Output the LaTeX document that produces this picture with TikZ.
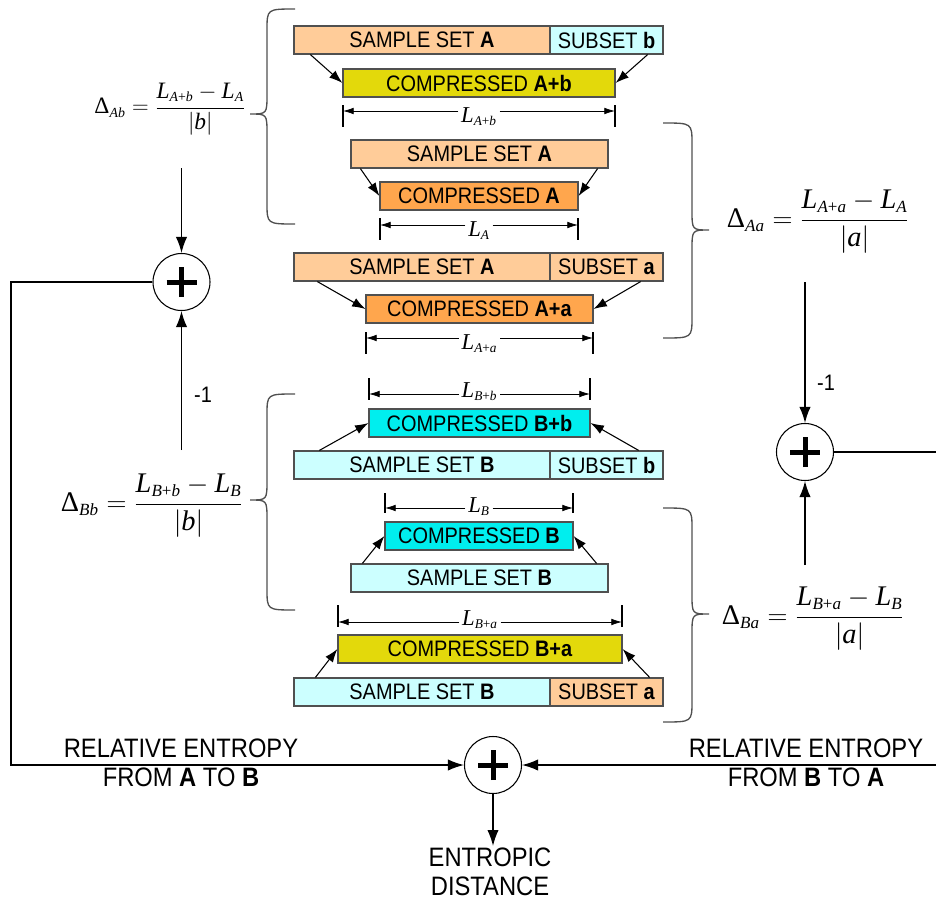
\documentclass[tikz,border=0pt]{standalone}
\usepackage{amsmath}
\usepackage[no-math]{fontspec}
\setmainfont{Liberation Sans}[FakeStretch=0.89]
\newfontfamily\tms{Liberation Serif}
\usetikzlibrary{arrows.meta,calc}
\DeclareMathSizes{17}{17}{10}{8}
\DeclareMathSizes{17.6}{17.6}{10.4}{8}
\DeclareMathSizes{21.3}{21.3}{12.8}{9}
\newcommand{\vi}[1]{\text{\tms\itshape #1}}
\newcommand{\vu}[1]{\text{\tms #1}}
\definecolor{peach}{HTML}{FFCC99}
\definecolor{lcyan}{HTML}{CCFFFF}
\definecolor{yel}{HTML}{E3D90B}
\definecolor{orng}{HTML}{FFA64D}
\definecolor{cyn}{HTML}{00EEEE}
\definecolor{edge}{HTML}{505050}
\tikzset{
 bxs/.style={draw=edge, line width=0.9pt, inner sep=0pt, font=\fontsize{16.8}{20}\selectfont},
 arr/.style={-{Latex[length=12pt,width=8.5pt]}, line width=1.1pt},
 sarr/.style={-{Latex[length=10pt,width=7pt]}, line width=0.8pt},
 dimarr/.style={-{Latex[length=8pt,width=5pt]}, line width=0.6pt},
 tickl/.style={line width=0.9pt},
 brc/.style={draw=edge, line width=1pt},
 plain/.style={line width=1.1pt},
 sumn/.style={circle, draw, line width=0.8pt, minimum size=42.75pt, inner sep=0pt,
   path picture={\draw[line width=3.75pt]
     ([xshift=-11.25pt]path picture bounding box.center) -- ([xshift=11.25pt]path picture bounding box.center)
     ([yshift=-11.25pt]path picture bounding box.center) -- ([yshift=11.25pt]path picture bounding box.center);}},
 lbl/.style={font=\fontsize{20}{21.75}\selectfont, align=center, inner sep=1pt},
 mlbl/.style={font=\fontsize{16.8}{20}\selectfont, inner sep=1pt},
 dlbl/.style={font=\fontsize{17}{20}\selectfont, inner sep=2pt, anchor=base},
 fbig/.style={font=\fontsize{21.3}{25}\selectfont, inner sep=0pt, anchor=base},
 fsmall/.style={font=\fontsize{17.6}{21}\selectfont, inner sep=0pt, anchor=base},
}
\newcommand{\mybox}[7]{%
 \pgfmathsetmacro{\bw}{(#4-#2)*0.75}%
 \pgfmathsetmacro{\bh}{(#5-#3)*0.75}%
 \node[bxs, fill=#6, minimum width=\bw pt, minimum height=\bh pt] (#1) at ({(#2+#4)/2},{(#3+#5)/2}) {#7};}
% name, x1, x2, yline, ytick1, ytick2, label, ybase
\newcommand{\mydim}[8]{%
 \node[dlbl] (#1) at ({(#2+#3)/2},#8) {#7};
 \coordinate (#1l) at (#2,#4);
 \coordinate (#1r) at (#3,#4);
 \draw[tickl] (#2,#5) -- (#2,#6);
 \draw[tickl] (#3,#5) -- (#3,#6);
 \draw[dimarr] (#1.west |- #1l) -- (#1l);
 \draw[dimarr] (#1.east |- #1r) -- (#1r);}
% L with subscript
\newcommand{\LL}[2]{\vi{L}_{\vi{#1}\vu{+}\vi{#2}}}
\newcommand{\Ls}[1]{\vi{L}_{\vi{#1}}}
\begin{document}
\begin{tikzpicture}[x=0.75pt,y=-0.75pt]
\useasboundingbox (0,0) rectangle (936,904);

% group A+b
\mybox{s1}{294}{26}{550}{54}{peach}{SAMPLE SET \textbf{A}}
\mybox{u1}{550}{26}{663}{54}{lcyan}{SUBSET \textbf{b}}
\mybox{c1}{343}{69}{615}{97}{yel}{COMPRESSED \textbf{A+b}}
\draw[sarr] ($(s1.south west)+(17,0)$) -- (c1.west);
\draw[sarr] ($(u1.south east)+(-16,0)$) -- (c1.east);
\mydim{d1}{343}{615}{111}{105}{127}{$\LL{A}{b}$}{122}

% group A
\mybox{s2}{351}{140}{608}{168}{peach}{SAMPLE SET \textbf{A}}
\mybox{c2}{380}{182}{578}{210}{orng}{COMPRESSED \textbf{A}}
\draw[sarr] ($(s2.south west)+(10,0)$) -- (c2.west);
\draw[sarr] ($(s2.south east)+(-11,0)$) -- (c2.east);
\mydim{d2}{380}{578}{225}{218}{240}{$\Ls{A}$}{236}

% group A+a
\mybox{s3}{294}{253}{550}{281}{peach}{SAMPLE SET \textbf{A}}
\mybox{u3}{550}{253}{663}{281}{peach}{SUBSET \textbf{a}}
\mybox{c3}{366}{295}{593}{323}{orng}{COMPRESSED \textbf{A+a}}
\draw[sarr] ($(s3.south west)+(24,0)$) -- (c3.west);
\draw[sarr] ($(u3.south east)+(-23,0)$) -- (c3.east);
\mydim{d3}{366}{593}{338}{332}{354}{$\LL{A}{a}$}{349}

% group B+b
\mydim{d4}{369}{590}{394}{378}{400}{$\LL{B}{b}$}{397}
\mybox{c4}{369}{409}{590}{437}{cyn}{COMPRESSED \textbf{B+b}}
\mybox{s4}{294}{451}{550}{479}{lcyan}{SAMPLE SET \textbf{B}}
\mybox{u4}{550}{451}{663}{479}{lcyan}{SUBSET \textbf{b}}
\draw[sarr] ($(s4.north west)+(26,0)$) -- (c4.west);
\draw[sarr] ($(u4.north east)+(-25,0)$) -- (c4.east);

% group B
\mydim{d5}{385}{573}{508}{493}{513}{$\Ls{B}$}{512}
\mybox{c5}{385}{522}{573}{550}{cyn}{COMPRESSED \textbf{B}}
\mybox{s5}{351}{564}{608}{592}{lcyan}{SAMPLE SET \textbf{B}}
\draw[sarr] ($(s5.north west)+(12,0)$) -- (c5.west);
\draw[sarr] ($(s5.north east)+(-12,0)$) -- (c5.east);

% group B+a
\mydim{d6}{338}{622}{622}{605}{627}{$\LL{B}{a}$}{625}
\mybox{c6}{338}{635}{622}{663}{yel}{COMPRESSED \textbf{B+a}}
\mybox{s6}{294}{678}{550}{706}{lcyan}{SAMPLE SET \textbf{B}}
\mybox{u6}{550}{678}{663}{706}{peach}{SUBSET \textbf{a}}
\draw[sarr] ($(s6.north west)+(22,0)$) -- (c6.west);
\draw[sarr] ($(u6.north east)+(-14,0)$) -- (c6.east);

% braces
\draw[brc] (295,9) .. controls (267,9) .. (267,30) -- (267,94) .. controls (267,114) .. (250,114)
  .. controls (267,114) .. (267,134) -- (267,203) .. controls (267,224) .. (295,224);
\draw[brc] (295,394) .. controls (267,394) .. (267,415) -- (267,480) .. controls (267,500) .. (250,500)
  .. controls (267,500) .. (267,520) -- (267,589) .. controls (267,610) .. (295,610);
\draw[brc] (663,123) .. controls (692,123) .. (692,144) -- (692,210) .. controls (692,230) .. (709,230)
  .. controls (692,230) .. (692,250) -- (692,317) .. controls (692,338) .. (663,338);
\draw[brc] (663,508) .. controls (692,508) .. (692,529) -- (692,594) .. controls (692,614) .. (709,614)
  .. controls (692,614) .. (692,634) -- (692,701) .. controls (692,722) .. (663,722);

% formulas
\node[fsmall] (fAb) at (170,113.9) {$\displaystyle \vu{Δ}_{\vi{Ab}}=\frac{\LL{A}{b}-\Ls{A}}{|\vi{b}|}$};
\node[fbig] (fAa) at (818,227.1) {$\displaystyle \vu{Δ}_{\vi{Aa}}=\frac{\LL{A}{a}-\Ls{A}}{|\vi{a}|}$};
\node[fbig] (fBb) at (152,511.1) {$\displaystyle \vu{Δ}_{\vi{Bb}}=\frac{\LL{B}{b}-\Ls{B}}{|\vi{b}|}$};
\node[fbig] (fBa) at (813,624.1) {$\displaystyle \vu{Δ}_{\vi{Ba}}=\frac{\LL{B}{a}-\Ls{B}}{|\vi{a}|}$};

% summing nodes
\node[sumn] (p1) at (181.5,282) {};
\node[sumn] (p2) at (805,452) {};
\node[sumn] (p3) at (493,765) {};

% left side
\coordinate (a1) at (181.5,168);
\coordinate (a2) at (181.5,450);
\draw[arr] (a1) -- (p1.north);
\draw[arr] (a2) -- (p1.south);
\node[mlbl] (m1) at (203,395) {-1};
\coordinate (l1) at (11,500);
\draw[arr] (p1.west) -| (l1) |- (p3.west);

% right side
\coordinate (b1) at (805,282);
\coordinate (b2) at (805,565);
\draw[arr] (b1) -- (p2.north);
\draw[arr] (b2) -- (p2.south);
\node[mlbl] (m2) at (826,383) {-1};
\coordinate (r1) at (936,452);
\coordinate (r2) at (936,765);
\draw[plain] (p2.east) -- (r1);
\draw[arr] (r2) -- (p3.east);

% bottom labels
\node[lbl] (rl) at (181,762.5) {RELATIVE ENTROPY\\FROM \textbf{A} TO \textbf{B}};
\node[lbl] (rr) at (806,762.5) {RELATIVE ENTROPY\\FROM \textbf{B} TO \textbf{A}};
\node[lbl, anchor=north] (ed) at (490,846) {ENTROPIC\\DISTANCE};
\draw[arr] (p3.south) -- (p3.south |- ed.north);
\end{tikzpicture}
\end{document}
